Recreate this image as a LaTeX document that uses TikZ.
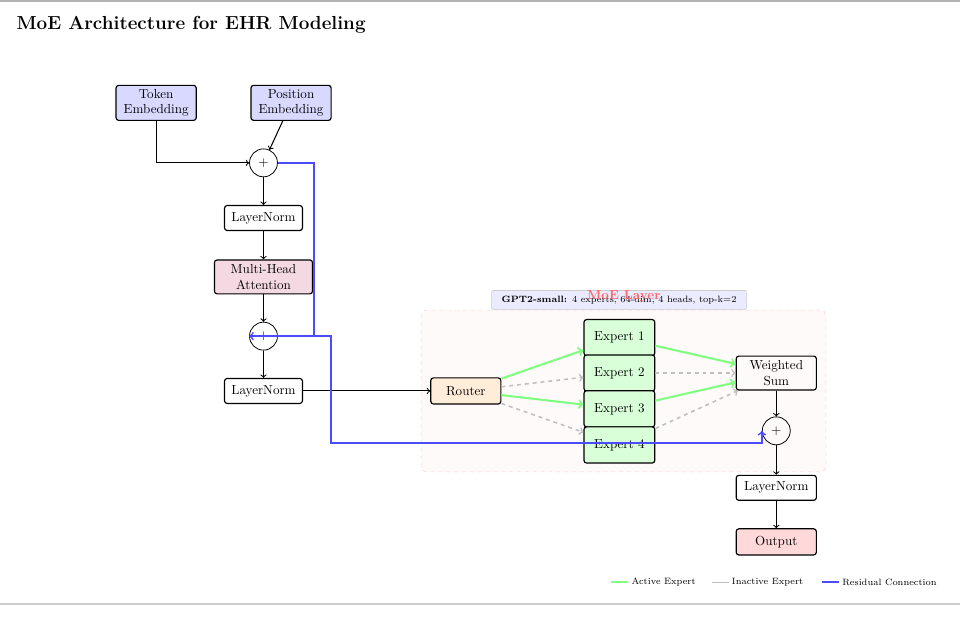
\documentclass[tikz,border=0pt]{standalone}
\usepackage{tikz}
\usetikzlibrary{shapes}

\begin{document}
\begin{tikzpicture}[
  box/.style={draw, line width=0.9pt, rounded corners=2pt, align=center, inner sep=2pt},
  sumnode/.style={draw, semithick, circle, minimum size=0.75cm, inner sep=0pt},
  expert/.style={box, fill=green!15, minimum width=1.9cm, minimum height=0.97cm},
  arr/.style={->, thick},
  active/.style={->, line width=1.6pt, green!50},
  inactive/.style={->, very thick, dashed, gray!50},
  resid/.style={->, line width=1.3pt, blue!70},
  legendtxt/.style={font=\scriptsize, text=black, right, inner sep=2pt}
]
   \useasboundingbox (0,0) rectangle (25.76,-16.53);
   \draw[gray!60, line width=1.5pt] (0,-0.03) -- (25.76,-0.03);
   \draw[gray!40, line width=1.5pt] (0,-16.21) -- (25.76,-16.21);

   \node[anchor=west, font=\Large\bfseries] (title) at (0.32,-0.67) {MoE Architecture for EHR Modeling};

   % MoE layer background
   \node[draw=red!20, dashed, fill=red!2, rounded corners=4pt, minimum width=10.86cm, minimum height=4.34cm] (moebox) at (16.73,-10.49) {};

   % encoder side
   \node[box, fill=blue!15, minimum width=2.15cm, minimum height=0.94cm] (tok) at (4.19,-2.76) {Token\\Embedding};
   \node[box, fill=blue!15, minimum width=2.15cm, minimum height=0.94cm] (pos) at (7.81,-2.76) {Position\\Embedding};
   \node[sumnode] (plus1) at (7.07,-4.37) {$+$};
   \node[box, minimum width=2.09cm, minimum height=0.67cm] (ln1) at (7.07,-5.85) {LayerNorm};
   \node[box, fill=purple!15, minimum width=2.63cm, minimum height=0.91cm] (mha) at (7.07,-7.43) {Multi-Head\\Attention};
   \node[sumnode] (plus2) at (7.07,-9.02) {$+$};
   \node[box, minimum width=2.09cm, minimum height=0.67cm] (ln2) at (7.07,-10.49) {LayerNorm};

   % MoE layer
   \node[box, fill=orange!15, minimum width=1.88cm, minimum height=0.70cm] (router) at (12.50,-10.49) {Router};
   \node[expert] (e1) at (16.62,-9.06) {Expert 1};
   \node[expert] (e2) at (16.62,-10.01) {Expert 2};
   \node[expert] (e3) at (16.62,-10.97) {Expert 3};
   \node[expert] (e4) at (16.62,-11.94) {Expert 4};
   \node[box, minimum width=2.15cm, minimum height=0.91cm] (wsum) at (20.83,-10.01) {Weighted\\Sum};
   \node[sumnode] (plus3) at (20.83,-11.56) {$+$};
   \node[box, minimum width=2.15cm, minimum height=0.67cm] (ln3) at (20.83,-13.09) {LayerNorm};
   \node[box, fill=red!15, minimum width=2.15cm, minimum height=0.70cm] (out) at (20.83,-14.54) {Output};

   \draw[arr] (tok) |- (plus1);
   \draw[arr] (pos) -- (plus1);
   \draw[arr] (plus1) -- (ln1);
   \draw[arr] (ln1) -- (mha);
   \draw[arr] (mha) -- (plus2);
   \draw[arr] (plus2) -- (ln2);
   \draw[arr] (ln2) -- (router);

   \draw[active] (router) -- (e1);
   \draw[inactive] (router) -- (e2);
   \draw[active] (router) -- (e3);
   \draw[inactive] (router) -- (e4);
   \draw[active] (e1) -- (wsum);
   \draw[inactive] (e2) -- (wsum);
   \draw[active] (e3) -- (wsum);
   \draw[inactive] (e4) -- (wsum);

   \draw[arr] (wsum) -- (plus3);
   \draw[arr] (plus3) -- (ln3);
   \draw[arr] (ln3) -- (out);

   % residuals
   \draw[resid] (plus1.east) -- ++(0.97,0) |- (plus2.west);
   \draw[resid] (plus2.east) -- ++(1.42,0) -- ++(0,-2.87) -| (plus3.west);

   \node[fill=blue!8, draw=gray!40, rounded corners=1pt, font=\scriptsize, minimum width=6.84cm, minimum height=0.51cm] (note) at (16.61,-8.05) {\textbf{GPT2-small:} 4 experts, 64-dim, 4 heads, top-k=2};
   \node[text=red!60, font=\bfseries] (moelbl) at (16.74,-7.94) {MoE Layer};

   % legend
   \draw[green!50, line width=1.6pt] (16.39,-15.62) -- (16.85,-15.62) node[legendtxt] (lgact) {Active Expert};
   \draw[gray!50, semithick] (19.10,-15.62) -- (19.56,-15.62) node[legendtxt] (lginact) {Inactive Expert};
   \draw[blue!70, line width=1.3pt] (22.06,-15.62) -- (22.51,-15.62) node[legendtxt] (lgres) {Residual Connection};
 \end{tikzpicture}
\end{document}
